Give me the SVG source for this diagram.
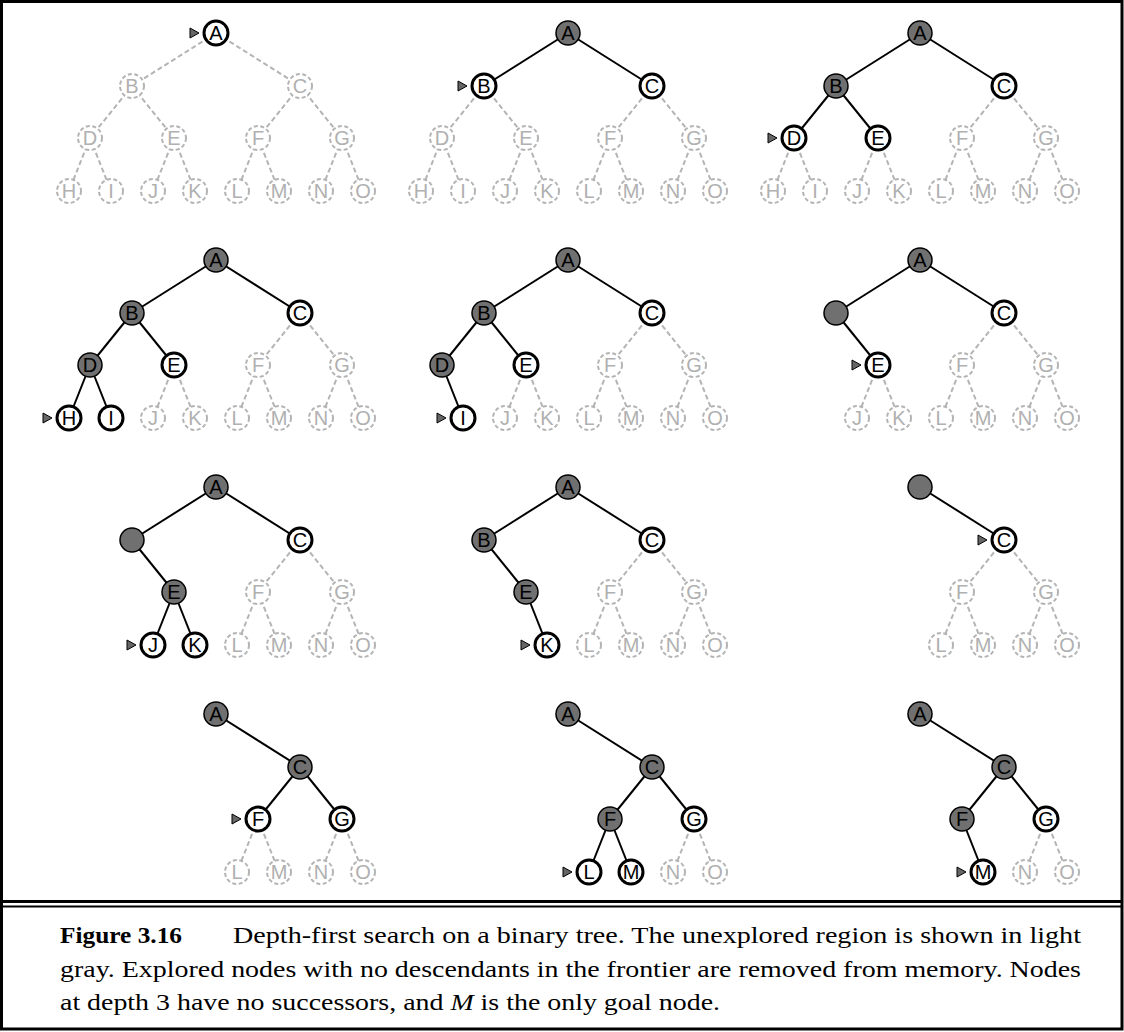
<svg xmlns="http://www.w3.org/2000/svg" width="1124" height="1032" viewBox="0 0 1124 1032">
<style>
.eb{stroke:#000;stroke-width:2}
.eg{stroke:#b4b4b4;stroke-width:2;stroke-dasharray:5 3}
.f circle{fill:#fff;stroke:#000;stroke-width:3}
.x circle{fill:#707070;stroke:#000;stroke-width:1.5}
.u circle{fill:#fff;stroke:#b4b4b4;stroke-width:2;stroke-dasharray:4 2.5}
.f text,.x text,.u text{font-size:20px;text-anchor:middle}
.f text,.x text{fill:#000}
.u text{fill:#b0b0b0}
.ptr{fill:#666;stroke:#000;stroke-width:1}
</style>
<rect x="1.5" y="1.5" width="1120.5" height="1027.5" fill="#fff" stroke="#000" stroke-width="3"/>
<line x1="1.5" y1="901.5" x2="1122" y2="901.5" stroke="#000" stroke-width="3"/>
<line x1="1.5" y1="906.5" x2="1122" y2="906.5" stroke="#000" stroke-width="2"/>

<g id="connectors">
<g transform="translate(0,33)">
<line class="eg" x1="216" y1="0" x2="132" y2="53"/><line class="eg" x1="216" y1="0" x2="300" y2="53"/>
<line class="eg" x1="132" y1="53" x2="90" y2="105"/><line class="eg" x1="132" y1="53" x2="174" y2="105"/>
<line class="eg" x1="300" y1="53" x2="258" y2="105"/><line class="eg" x1="300" y1="53" x2="342" y2="105"/>
<line class="eg" x1="90" y1="105" x2="69" y2="158"/><line class="eg" x1="90" y1="105" x2="111" y2="158"/>
<line class="eg" x1="174" y1="105" x2="153" y2="158"/><line class="eg" x1="174" y1="105" x2="195" y2="158"/>
<line class="eg" x1="258" y1="105" x2="237" y2="158"/><line class="eg" x1="258" y1="105" x2="279" y2="158"/>
<line class="eg" x1="342" y1="105" x2="321" y2="158"/><line class="eg" x1="342" y1="105" x2="363" y2="158"/>
</g>
<g transform="translate(352,33)">
<line class="eb" x1="216" y1="0" x2="132" y2="53"/><line class="eb" x1="216" y1="0" x2="300" y2="53"/>
<line class="eg" x1="132" y1="53" x2="90" y2="105"/><line class="eg" x1="132" y1="53" x2="174" y2="105"/>
<line class="eg" x1="300" y1="53" x2="258" y2="105"/><line class="eg" x1="300" y1="53" x2="342" y2="105"/>
<line class="eg" x1="90" y1="105" x2="69" y2="158"/><line class="eg" x1="90" y1="105" x2="111" y2="158"/>
<line class="eg" x1="174" y1="105" x2="153" y2="158"/><line class="eg" x1="174" y1="105" x2="195" y2="158"/>
<line class="eg" x1="258" y1="105" x2="237" y2="158"/><line class="eg" x1="258" y1="105" x2="279" y2="158"/>
<line class="eg" x1="342" y1="105" x2="321" y2="158"/><line class="eg" x1="342" y1="105" x2="363" y2="158"/>
</g>
<g transform="translate(704,33)">
<line class="eb" x1="216" y1="0" x2="132" y2="53"/><line class="eb" x1="216" y1="0" x2="300" y2="53"/>
<line class="eb" x1="132" y1="53" x2="90" y2="105"/><line class="eb" x1="132" y1="53" x2="174" y2="105"/>
<line class="eg" x1="300" y1="53" x2="258" y2="105"/><line class="eg" x1="300" y1="53" x2="342" y2="105"/>
<line class="eg" x1="90" y1="105" x2="69" y2="158"/><line class="eg" x1="90" y1="105" x2="111" y2="158"/>
<line class="eg" x1="174" y1="105" x2="153" y2="158"/><line class="eg" x1="174" y1="105" x2="195" y2="158"/>
<line class="eg" x1="258" y1="105" x2="237" y2="158"/><line class="eg" x1="258" y1="105" x2="279" y2="158"/>
<line class="eg" x1="342" y1="105" x2="321" y2="158"/><line class="eg" x1="342" y1="105" x2="363" y2="158"/>
</g>
<g transform="translate(0,260)">
<line class="eb" x1="216" y1="0" x2="132" y2="53"/><line class="eb" x1="216" y1="0" x2="300" y2="53"/>
<line class="eb" x1="132" y1="53" x2="90" y2="105"/><line class="eb" x1="132" y1="53" x2="174" y2="105"/>
<line class="eg" x1="300" y1="53" x2="258" y2="105"/><line class="eg" x1="300" y1="53" x2="342" y2="105"/>
<line class="eb" x1="90" y1="105" x2="69" y2="158"/><line class="eb" x1="90" y1="105" x2="111" y2="158"/>
<line class="eg" x1="174" y1="105" x2="153" y2="158"/><line class="eg" x1="174" y1="105" x2="195" y2="158"/>
<line class="eg" x1="258" y1="105" x2="237" y2="158"/><line class="eg" x1="258" y1="105" x2="279" y2="158"/>
<line class="eg" x1="342" y1="105" x2="321" y2="158"/><line class="eg" x1="342" y1="105" x2="363" y2="158"/>
</g>
<g transform="translate(352,260)">
<line class="eb" x1="216" y1="0" x2="132" y2="53"/><line class="eb" x1="216" y1="0" x2="300" y2="53"/>
<line class="eb" x1="132" y1="53" x2="90" y2="105"/><line class="eb" x1="132" y1="53" x2="174" y2="105"/>
<line class="eg" x1="300" y1="53" x2="258" y2="105"/><line class="eg" x1="300" y1="53" x2="342" y2="105"/>
<line class="eb" x1="90" y1="105" x2="111" y2="158"/>
<line class="eg" x1="174" y1="105" x2="153" y2="158"/><line class="eg" x1="174" y1="105" x2="195" y2="158"/>
<line class="eg" x1="258" y1="105" x2="237" y2="158"/><line class="eg" x1="258" y1="105" x2="279" y2="158"/>
<line class="eg" x1="342" y1="105" x2="321" y2="158"/><line class="eg" x1="342" y1="105" x2="363" y2="158"/>
</g>
<g transform="translate(704,260)">
<line class="eb" x1="216" y1="0" x2="132" y2="53"/><line class="eb" x1="216" y1="0" x2="300" y2="53"/>
<line class="eb" x1="132" y1="53" x2="174" y2="105"/>
<line class="eg" x1="300" y1="53" x2="258" y2="105"/><line class="eg" x1="300" y1="53" x2="342" y2="105"/>
<line class="eg" x1="174" y1="105" x2="153" y2="158"/><line class="eg" x1="174" y1="105" x2="195" y2="158"/>
<line class="eg" x1="258" y1="105" x2="237" y2="158"/><line class="eg" x1="258" y1="105" x2="279" y2="158"/>
<line class="eg" x1="342" y1="105" x2="321" y2="158"/><line class="eg" x1="342" y1="105" x2="363" y2="158"/>
</g>
<g transform="translate(0,487)">
<line class="eb" x1="216" y1="0" x2="132" y2="53"/><line class="eb" x1="216" y1="0" x2="300" y2="53"/>
<line class="eb" x1="132" y1="53" x2="174" y2="105"/>
<line class="eg" x1="300" y1="53" x2="258" y2="105"/><line class="eg" x1="300" y1="53" x2="342" y2="105"/>
<line class="eb" x1="174" y1="105" x2="153" y2="158"/><line class="eb" x1="174" y1="105" x2="195" y2="158"/>
<line class="eg" x1="258" y1="105" x2="237" y2="158"/><line class="eg" x1="258" y1="105" x2="279" y2="158"/>
<line class="eg" x1="342" y1="105" x2="321" y2="158"/><line class="eg" x1="342" y1="105" x2="363" y2="158"/>
</g>
<g transform="translate(352,487)">
<line class="eb" x1="216" y1="0" x2="132" y2="53"/><line class="eb" x1="216" y1="0" x2="300" y2="53"/>
<line class="eb" x1="132" y1="53" x2="174" y2="105"/>
<line class="eg" x1="300" y1="53" x2="258" y2="105"/><line class="eg" x1="300" y1="53" x2="342" y2="105"/>
<line class="eb" x1="174" y1="105" x2="195" y2="158"/>
<line class="eg" x1="258" y1="105" x2="237" y2="158"/><line class="eg" x1="258" y1="105" x2="279" y2="158"/>
<line class="eg" x1="342" y1="105" x2="321" y2="158"/><line class="eg" x1="342" y1="105" x2="363" y2="158"/>
</g>
<g transform="translate(704,487)">
<line class="eb" x1="216" y1="0" x2="300" y2="53"/>
<line class="eg" x1="300" y1="53" x2="258" y2="105"/><line class="eg" x1="300" y1="53" x2="342" y2="105"/>
<line class="eg" x1="258" y1="105" x2="237" y2="158"/><line class="eg" x1="258" y1="105" x2="279" y2="158"/>
<line class="eg" x1="342" y1="105" x2="321" y2="158"/><line class="eg" x1="342" y1="105" x2="363" y2="158"/>
</g>
<g transform="translate(0,714)">
<line class="eb" x1="216" y1="0" x2="300" y2="53"/>
<line class="eb" x1="300" y1="53" x2="258" y2="105"/><line class="eb" x1="300" y1="53" x2="342" y2="105"/>
<line class="eg" x1="258" y1="105" x2="237" y2="158"/><line class="eg" x1="258" y1="105" x2="279" y2="158"/>
<line class="eg" x1="342" y1="105" x2="321" y2="158"/><line class="eg" x1="342" y1="105" x2="363" y2="158"/>
</g>
<g transform="translate(352,714)">
<line class="eb" x1="216" y1="0" x2="300" y2="53"/>
<line class="eb" x1="300" y1="53" x2="258" y2="105"/><line class="eb" x1="300" y1="53" x2="342" y2="105"/>
<line class="eb" x1="258" y1="105" x2="237" y2="158"/><line class="eb" x1="258" y1="105" x2="279" y2="158"/>
<line class="eg" x1="342" y1="105" x2="321" y2="158"/><line class="eg" x1="342" y1="105" x2="363" y2="158"/>
</g>
<g transform="translate(704,714)">
<line class="eb" x1="216" y1="0" x2="300" y2="53"/>
<line class="eb" x1="300" y1="53" x2="258" y2="105"/><line class="eb" x1="300" y1="53" x2="342" y2="105"/>
<line class="eb" x1="258" y1="105" x2="279" y2="158"/>
<line class="eg" x1="342" y1="105" x2="321" y2="158"/><line class="eg" x1="342" y1="105" x2="363" y2="158"/>
</g>
</g>

<g id="nodes" font-family="Liberation Sans, Arial, Helvetica, sans-serif">
<!-- panel 1 -->
<g id="panel1" transform="translate(0,33)">
<g id="p1-A" class="f" transform="translate(216,0)"><path class="ptr" d="M-26,-5L-17,0L-26,5Z"/><circle r="12"/><text y="7.3">A</text></g>
<g id="p1-B" class="u" transform="translate(132,53)"><circle r="12"/><text y="7.3">B</text></g>
<g id="p1-C" class="u" transform="translate(300,53)"><circle r="12"/><text y="7.3">C</text></g>
<g id="p1-D" class="u" transform="translate(90,105)"><circle r="12"/><text y="7.3">D</text></g>
<g id="p1-E" class="u" transform="translate(174,105)"><circle r="12"/><text y="7.3">E</text></g>
<g id="p1-F" class="u" transform="translate(258,105)"><circle r="12"/><text y="7.3">F</text></g>
<g id="p1-G" class="u" transform="translate(342,105)"><circle r="12"/><text y="7.3">G</text></g>
<g id="p1-H" class="u" transform="translate(69,158)"><circle r="12"/><text y="7.3">H</text></g>
<g id="p1-I" class="u" transform="translate(111,158)"><circle r="12"/><text y="7.3">I</text></g>
<g id="p1-J" class="u" transform="translate(153,158)"><circle r="12"/><text y="7.3">J</text></g>
<g id="p1-K" class="u" transform="translate(195,158)"><circle r="12"/><text y="7.3">K</text></g>
<g id="p1-L" class="u" transform="translate(237,158)"><circle r="12"/><text y="7.3">L</text></g>
<g id="p1-M" class="u" transform="translate(279,158)"><circle r="12"/><text y="7.3">M</text></g>
<g id="p1-N" class="u" transform="translate(321,158)"><circle r="12"/><text y="7.3">N</text></g>
<g id="p1-O" class="u" transform="translate(363,158)"><circle r="12"/><text y="7.3">O</text></g>
</g>
<!-- panel 2 -->
<g id="panel2" transform="translate(352,33)">
<g id="p2-A" class="x" transform="translate(216,0)"><circle r="12"/><text y="7.3">A</text></g>
<g id="p2-B" class="f" transform="translate(132,53)"><path class="ptr" d="M-26,-5L-17,0L-26,5Z"/><circle r="12"/><text y="7.3">B</text></g>
<g id="p2-C" class="f" transform="translate(300,53)"><circle r="12"/><text y="7.3">C</text></g>
<g id="p2-D" class="u" transform="translate(90,105)"><circle r="12"/><text y="7.3">D</text></g>
<g id="p2-E" class="u" transform="translate(174,105)"><circle r="12"/><text y="7.3">E</text></g>
<g id="p2-F" class="u" transform="translate(258,105)"><circle r="12"/><text y="7.3">F</text></g>
<g id="p2-G" class="u" transform="translate(342,105)"><circle r="12"/><text y="7.3">G</text></g>
<g id="p2-H" class="u" transform="translate(69,158)"><circle r="12"/><text y="7.3">H</text></g>
<g id="p2-I" class="u" transform="translate(111,158)"><circle r="12"/><text y="7.3">I</text></g>
<g id="p2-J" class="u" transform="translate(153,158)"><circle r="12"/><text y="7.3">J</text></g>
<g id="p2-K" class="u" transform="translate(195,158)"><circle r="12"/><text y="7.3">K</text></g>
<g id="p2-L" class="u" transform="translate(237,158)"><circle r="12"/><text y="7.3">L</text></g>
<g id="p2-M" class="u" transform="translate(279,158)"><circle r="12"/><text y="7.3">M</text></g>
<g id="p2-N" class="u" transform="translate(321,158)"><circle r="12"/><text y="7.3">N</text></g>
<g id="p2-O" class="u" transform="translate(363,158)"><circle r="12"/><text y="7.3">O</text></g>
</g>
<!-- panel 3 -->
<g id="panel3" transform="translate(704,33)">
<g id="p3-A" class="x" transform="translate(216,0)"><circle r="12"/><text y="7.3">A</text></g>
<g id="p3-B" class="x" transform="translate(132,53)"><circle r="12"/><text y="7.3">B</text></g>
<g id="p3-C" class="f" transform="translate(300,53)"><circle r="12"/><text y="7.3">C</text></g>
<g id="p3-D" class="f" transform="translate(90,105)"><path class="ptr" d="M-26,-5L-17,0L-26,5Z"/><circle r="12"/><text y="7.3">D</text></g>
<g id="p3-E" class="f" transform="translate(174,105)"><circle r="12"/><text y="7.3">E</text></g>
<g id="p3-F" class="u" transform="translate(258,105)"><circle r="12"/><text y="7.3">F</text></g>
<g id="p3-G" class="u" transform="translate(342,105)"><circle r="12"/><text y="7.3">G</text></g>
<g id="p3-H" class="u" transform="translate(69,158)"><circle r="12"/><text y="7.3">H</text></g>
<g id="p3-I" class="u" transform="translate(111,158)"><circle r="12"/><text y="7.3">I</text></g>
<g id="p3-J" class="u" transform="translate(153,158)"><circle r="12"/><text y="7.3">J</text></g>
<g id="p3-K" class="u" transform="translate(195,158)"><circle r="12"/><text y="7.3">K</text></g>
<g id="p3-L" class="u" transform="translate(237,158)"><circle r="12"/><text y="7.3">L</text></g>
<g id="p3-M" class="u" transform="translate(279,158)"><circle r="12"/><text y="7.3">M</text></g>
<g id="p3-N" class="u" transform="translate(321,158)"><circle r="12"/><text y="7.3">N</text></g>
<g id="p3-O" class="u" transform="translate(363,158)"><circle r="12"/><text y="7.3">O</text></g>
</g>
<!-- panel 4 -->
<g id="panel4" transform="translate(0,260)">
<g id="p4-A" class="x" transform="translate(216,0)"><circle r="12"/><text y="7.3">A</text></g>
<g id="p4-B" class="x" transform="translate(132,53)"><circle r="12"/><text y="7.3">B</text></g>
<g id="p4-C" class="f" transform="translate(300,53)"><circle r="12"/><text y="7.3">C</text></g>
<g id="p4-D" class="x" transform="translate(90,105)"><circle r="12"/><text y="7.3">D</text></g>
<g id="p4-E" class="f" transform="translate(174,105)"><circle r="12"/><text y="7.3">E</text></g>
<g id="p4-F" class="u" transform="translate(258,105)"><circle r="12"/><text y="7.3">F</text></g>
<g id="p4-G" class="u" transform="translate(342,105)"><circle r="12"/><text y="7.3">G</text></g>
<g id="p4-H" class="f" transform="translate(69,158)"><path class="ptr" d="M-26,-5L-17,0L-26,5Z"/><circle r="12"/><text y="7.3">H</text></g>
<g id="p4-I" class="f" transform="translate(111,158)"><circle r="12"/><text y="7.3">I</text></g>
<g id="p4-J" class="u" transform="translate(153,158)"><circle r="12"/><text y="7.3">J</text></g>
<g id="p4-K" class="u" transform="translate(195,158)"><circle r="12"/><text y="7.3">K</text></g>
<g id="p4-L" class="u" transform="translate(237,158)"><circle r="12"/><text y="7.3">L</text></g>
<g id="p4-M" class="u" transform="translate(279,158)"><circle r="12"/><text y="7.3">M</text></g>
<g id="p4-N" class="u" transform="translate(321,158)"><circle r="12"/><text y="7.3">N</text></g>
<g id="p4-O" class="u" transform="translate(363,158)"><circle r="12"/><text y="7.3">O</text></g>
</g>
<!-- panel 5 -->
<g id="panel5" transform="translate(352,260)">
<g id="p5-A" class="x" transform="translate(216,0)"><circle r="12"/><text y="7.3">A</text></g>
<g id="p5-B" class="x" transform="translate(132,53)"><circle r="12"/><text y="7.3">B</text></g>
<g id="p5-C" class="f" transform="translate(300,53)"><circle r="12"/><text y="7.3">C</text></g>
<g id="p5-D" class="x" transform="translate(90,105)"><circle r="12"/><text y="7.3">D</text></g>
<g id="p5-E" class="f" transform="translate(174,105)"><circle r="12"/><text y="7.3">E</text></g>
<g id="p5-F" class="u" transform="translate(258,105)"><circle r="12"/><text y="7.3">F</text></g>
<g id="p5-G" class="u" transform="translate(342,105)"><circle r="12"/><text y="7.3">G</text></g>
<g id="p5-I" class="f" transform="translate(111,158)"><path class="ptr" d="M-26,-5L-17,0L-26,5Z"/><circle r="12"/><text y="7.3">I</text></g>
<g id="p5-J" class="u" transform="translate(153,158)"><circle r="12"/><text y="7.3">J</text></g>
<g id="p5-K" class="u" transform="translate(195,158)"><circle r="12"/><text y="7.3">K</text></g>
<g id="p5-L" class="u" transform="translate(237,158)"><circle r="12"/><text y="7.3">L</text></g>
<g id="p5-M" class="u" transform="translate(279,158)"><circle r="12"/><text y="7.3">M</text></g>
<g id="p5-N" class="u" transform="translate(321,158)"><circle r="12"/><text y="7.3">N</text></g>
<g id="p5-O" class="u" transform="translate(363,158)"><circle r="12"/><text y="7.3">O</text></g>
</g>
<!-- panel 6 -->
<g id="panel6" transform="translate(704,260)">
<g id="p6-A" class="x" transform="translate(216,0)"><circle r="12"/><text y="7.3">A</text></g>
<g id="p6-B" class="x" transform="translate(132,53)"><circle r="12"/></g>
<g id="p6-C" class="f" transform="translate(300,53)"><circle r="12"/><text y="7.3">C</text></g>
<g id="p6-E" class="f" transform="translate(174,105)"><path class="ptr" d="M-26,-5L-17,0L-26,5Z"/><circle r="12"/><text y="7.3">E</text></g>
<g id="p6-F" class="u" transform="translate(258,105)"><circle r="12"/><text y="7.3">F</text></g>
<g id="p6-G" class="u" transform="translate(342,105)"><circle r="12"/><text y="7.3">G</text></g>
<g id="p6-J" class="u" transform="translate(153,158)"><circle r="12"/><text y="7.3">J</text></g>
<g id="p6-K" class="u" transform="translate(195,158)"><circle r="12"/><text y="7.3">K</text></g>
<g id="p6-L" class="u" transform="translate(237,158)"><circle r="12"/><text y="7.3">L</text></g>
<g id="p6-M" class="u" transform="translate(279,158)"><circle r="12"/><text y="7.3">M</text></g>
<g id="p6-N" class="u" transform="translate(321,158)"><circle r="12"/><text y="7.3">N</text></g>
<g id="p6-O" class="u" transform="translate(363,158)"><circle r="12"/><text y="7.3">O</text></g>
</g>
<!-- panel 7 -->
<g id="panel7" transform="translate(0,487)">
<g id="p7-A" class="x" transform="translate(216,0)"><circle r="12"/><text y="7.3">A</text></g>
<g id="p7-B" class="x" transform="translate(132,53)"><circle r="12"/></g>
<g id="p7-C" class="f" transform="translate(300,53)"><circle r="12"/><text y="7.3">C</text></g>
<g id="p7-E" class="x" transform="translate(174,105)"><circle r="12"/><text y="7.3">E</text></g>
<g id="p7-F" class="u" transform="translate(258,105)"><circle r="12"/><text y="7.3">F</text></g>
<g id="p7-G" class="u" transform="translate(342,105)"><circle r="12"/><text y="7.3">G</text></g>
<g id="p7-J" class="f" transform="translate(153,158)"><path class="ptr" d="M-26,-5L-17,0L-26,5Z"/><circle r="12"/><text y="7.3">J</text></g>
<g id="p7-K" class="f" transform="translate(195,158)"><circle r="12"/><text y="7.3">K</text></g>
<g id="p7-L" class="u" transform="translate(237,158)"><circle r="12"/><text y="7.3">L</text></g>
<g id="p7-M" class="u" transform="translate(279,158)"><circle r="12"/><text y="7.3">M</text></g>
<g id="p7-N" class="u" transform="translate(321,158)"><circle r="12"/><text y="7.3">N</text></g>
<g id="p7-O" class="u" transform="translate(363,158)"><circle r="12"/><text y="7.3">O</text></g>
</g>
<!-- panel 8 -->
<g id="panel8" transform="translate(352,487)">
<g id="p8-A" class="x" transform="translate(216,0)"><circle r="12"/><text y="7.3">A</text></g>
<g id="p8-B" class="x" transform="translate(132,53)"><circle r="12"/><text y="7.3">B</text></g>
<g id="p8-C" class="f" transform="translate(300,53)"><circle r="12"/><text y="7.3">C</text></g>
<g id="p8-E" class="x" transform="translate(174,105)"><circle r="12"/><text y="7.3">E</text></g>
<g id="p8-F" class="u" transform="translate(258,105)"><circle r="12"/><text y="7.3">F</text></g>
<g id="p8-G" class="u" transform="translate(342,105)"><circle r="12"/><text y="7.3">G</text></g>
<g id="p8-K" class="f" transform="translate(195,158)"><path class="ptr" d="M-26,-5L-17,0L-26,5Z"/><circle r="12"/><text y="7.3">K</text></g>
<g id="p8-L" class="u" transform="translate(237,158)"><circle r="12"/><text y="7.3">L</text></g>
<g id="p8-M" class="u" transform="translate(279,158)"><circle r="12"/><text y="7.3">M</text></g>
<g id="p8-N" class="u" transform="translate(321,158)"><circle r="12"/><text y="7.3">N</text></g>
<g id="p8-O" class="u" transform="translate(363,158)"><circle r="12"/><text y="7.3">O</text></g>
</g>
<!-- panel 9 -->
<g id="panel9" transform="translate(704,487)">
<g id="p9-A" class="x" transform="translate(216,0)"><circle r="12"/></g>
<g id="p9-C" class="f" transform="translate(300,53)"><path class="ptr" d="M-26,-5L-17,0L-26,5Z"/><circle r="12"/><text y="7.3">C</text></g>
<g id="p9-F" class="u" transform="translate(258,105)"><circle r="12"/><text y="7.3">F</text></g>
<g id="p9-G" class="u" transform="translate(342,105)"><circle r="12"/><text y="7.3">G</text></g>
<g id="p9-L" class="u" transform="translate(237,158)"><circle r="12"/><text y="7.3">L</text></g>
<g id="p9-M" class="u" transform="translate(279,158)"><circle r="12"/><text y="7.3">M</text></g>
<g id="p9-N" class="u" transform="translate(321,158)"><circle r="12"/><text y="7.3">N</text></g>
<g id="p9-O" class="u" transform="translate(363,158)"><circle r="12"/><text y="7.3">O</text></g>
</g>
<!-- panel 10 -->
<g id="panel10" transform="translate(0,714)">
<g id="p10-A" class="x" transform="translate(216,0)"><circle r="12"/><text y="7.3">A</text></g>
<g id="p10-C" class="x" transform="translate(300,53)"><circle r="12"/><text y="7.3">C</text></g>
<g id="p10-F" class="f" transform="translate(258,105)"><path class="ptr" d="M-26,-5L-17,0L-26,5Z"/><circle r="12"/><text y="7.3">F</text></g>
<g id="p10-G" class="f" transform="translate(342,105)"><circle r="12"/><text y="7.3">G</text></g>
<g id="p10-L" class="u" transform="translate(237,158)"><circle r="12"/><text y="7.3">L</text></g>
<g id="p10-M" class="u" transform="translate(279,158)"><circle r="12"/><text y="7.3">M</text></g>
<g id="p10-N" class="u" transform="translate(321,158)"><circle r="12"/><text y="7.3">N</text></g>
<g id="p10-O" class="u" transform="translate(363,158)"><circle r="12"/><text y="7.3">O</text></g>
</g>
<!-- panel 11 -->
<g id="panel11" transform="translate(352,714)">
<g id="p11-A" class="x" transform="translate(216,0)"><circle r="12"/><text y="7.3">A</text></g>
<g id="p11-C" class="x" transform="translate(300,53)"><circle r="12"/><text y="7.3">C</text></g>
<g id="p11-F" class="x" transform="translate(258,105)"><circle r="12"/><text y="7.3">F</text></g>
<g id="p11-G" class="f" transform="translate(342,105)"><circle r="12"/><text y="7.3">G</text></g>
<g id="p11-L" class="f" transform="translate(237,158)"><path class="ptr" d="M-26,-5L-17,0L-26,5Z"/><circle r="12"/><text y="7.3">L</text></g>
<g id="p11-M" class="f" transform="translate(279,158)"><circle r="12"/><text y="7.3">M</text></g>
<g id="p11-N" class="u" transform="translate(321,158)"><circle r="12"/><text y="7.3">N</text></g>
<g id="p11-O" class="u" transform="translate(363,158)"><circle r="12"/><text y="7.3">O</text></g>
</g>
<!-- panel 12 -->
<g id="panel12" transform="translate(704,714)">
<g id="p12-A" class="x" transform="translate(216,0)"><circle r="12"/><text y="7.3">A</text></g>
<g id="p12-C" class="x" transform="translate(300,53)"><circle r="12"/><text y="7.3">C</text></g>
<g id="p12-F" class="x" transform="translate(258,105)"><circle r="12"/><text y="7.3">F</text></g>
<g id="p12-G" class="f" transform="translate(342,105)"><circle r="12"/><text y="7.3">G</text></g>
<g id="p12-M" class="f" transform="translate(279,158)"><path class="ptr" d="M-26,-5L-17,0L-26,5Z"/><circle r="12"/><text y="7.3">M</text></g>
<g id="p12-N" class="u" transform="translate(321,158)"><circle r="12"/><text y="7.3">N</text></g>
<g id="p12-O" class="u" transform="translate(363,158)"><circle r="12"/><text y="7.3">O</text></g>
</g>
</g>

<g id="caption" font-family="Liberation Serif, Times New Roman, Times, serif" font-size="23" fill="#000">
<text x="60" y="943" font-weight="bold" textLength="122" lengthAdjust="spacingAndGlyphs">Figure 3.16</text>
<text x="233" y="943" textLength="848" lengthAdjust="spacingAndGlyphs">Depth-first search on a binary tree.  The unexplored region is shown in light</text>
<text x="60" y="977" textLength="1021" lengthAdjust="spacingAndGlyphs">gray. Explored nodes with no descendants in the frontier are removed from memory. Nodes</text>
<text x="60" y="1010" textLength="660" lengthAdjust="spacingAndGlyphs">at depth 3 have no successors, and <tspan font-style="italic">M</tspan> is the only goal node.</text>
</g>
</svg>
